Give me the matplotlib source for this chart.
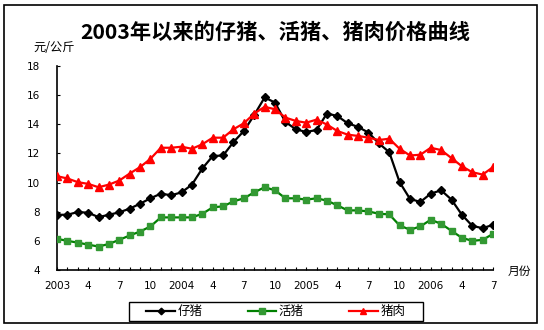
import numpy as np
import matplotlib
matplotlib.use("Agg")
import matplotlib.pyplot as plt
from matplotlib.patches import Rectangle

# Monthly prices (yuan/kg) from Jan 2003 to Jul 2006
piglet = [7.79, 7.79, 7.98, 7.93, 7.63, 7.79, 7.96, 8.21, 8.55, 8.92, 9.24, 9.13,
          9.33, 9.86, 10.97, 11.82, 11.86, 12.78, 13.54, 14.64, 15.84, 15.49, 14.16, 13.66,
          13.47, 13.61, 14.74, 14.57, 14.07, 13.82, 13.43, 12.69, 12.09, 10.03, 8.88, 8.67,
          9.24, 9.47, 8.83, 7.79, 7.03, 6.87, 7.10]
hog = [6.14, 6.00, 5.88, 5.74, 5.61, 5.79, 6.07, 6.37, 6.64, 6.99, 7.61, 7.61,
       7.61, 7.61, 7.86, 8.30, 8.37, 8.71, 8.92, 9.33, 9.68, 9.47, 8.92, 8.92,
       8.83, 8.92, 8.76, 8.44, 8.09, 8.09, 8.02, 7.86, 7.82, 7.06, 6.76, 6.99,
       7.45, 7.17, 6.69, 6.21, 6.00, 6.07, 6.48]
pork = [10.44, 10.28, 10.03, 9.91, 9.68, 9.86, 10.14, 10.62, 11.06, 11.63, 12.39, 12.39,
        12.46, 12.32, 12.63, 13.08, 13.08, 13.66, 14.07, 14.74, 15.20, 15.03, 14.46, 14.23,
        14.11, 14.32, 13.98, 13.54, 13.29, 13.20, 13.08, 12.92, 13.01, 12.32, 11.86, 11.91,
        12.39, 12.23, 11.68, 11.12, 10.71, 10.55, 11.06]

# x labels every third month
month_labels = ["2003", "4", "7", "10", "2004", "4", "7", "10",
                "2005", "4", "7", "10", "2006", "4", "7"]
y_ticks = [4, 6, 8, 10, 12, 14, 16, 18]

cjk = ["Noto Sans CJK SC", "DejaVu Sans"]
plt.rcParams["font.family"] = cjk

fig = plt.figure(figsize=(5.44, 3.30), dpi=100)
ax = fig.add_axes([0.1048, 0.1818, 0.8015, 0.6182])

x = np.arange(len(piglet))
ax.plot(x, piglet, color="black", lw=1.6, marker="D", ms=4.2,
        mfc="black", mec="black", label="仔猪", zorder=3)
ax.plot(x, hog, color="#008000", lw=1.6, marker="s", ms=4.6,
        mfc="#339933", mec="#339933", label="活猪", zorder=3)
ax.plot(x, pork, color="red", lw=1.6, marker="^", ms=5.2,
        mfc="red", mec="red", label="猪肉", zorder=3)

ax.set_xlim(0, len(piglet) - 1)
ax.set_ylim(4, 18)

# one tick per month, labels on every third
ax.set_xticks(x)
ax.set_xticklabels([month_labels[i // 3] if i % 3 == 0 else "" for i in x],
                   family="DejaVu Sans", fontsize=7.5)
ax.set_yticks(y_ticks)
ax.set_yticklabels([str(v) for v in y_ticks], family="DejaVu Sans", fontsize=7.5)
ax.tick_params(axis="x", direction="in", length=2.5, width=0.8, pad=8)
ax.tick_params(axis="y", direction="in", length=2.5, width=0.8, pad=12)

for side in ["top", "right"]:
    ax.spines[side].set_visible(False)
for side in ["left", "bottom"]:
    ax.spines[side].set_linewidth(1.2)

fig.text(0.506, 0.903, "2003年以来的仔猪、活猪、猪肉价格曲线", ha="center", va="center",
         fontsize=15.3, fontweight="bold", family=cjk)
fig.text(0.061, 0.855, "元/公斤", ha="left", va="center", fontsize=8.8, family=cjk)
fig.text(0.934, 0.176, "月份", ha="left", va="center", fontsize=8.5, family=cjk)

# legend entries without frame, the wide box is drawn separately
fig.legend(loc="center", bbox_to_anchor=(0.507, 0.056), ncol=3,
           fontsize=9, frameon=False, handlelength=2.3, handletextpad=0.2,
           columnspacing=3.6, borderpad=0.2, markerscale=0.8)
fig.patches.append(Rectangle((129 / 544, 9 / 330), 294 / 544, 19 / 330,
                             transform=fig.transFigure, fill=False,
                             edgecolor="black", linewidth=1.0))

# outer frame around the whole chart
fig.patches.append(Rectangle((4 / 544, 7 / 330), 533 / 544, 318 / 330,
                             transform=fig.transFigure, fill=False,
                             edgecolor="black", linewidth=1.2))

fig.savefig("out.png", dpi=100)
